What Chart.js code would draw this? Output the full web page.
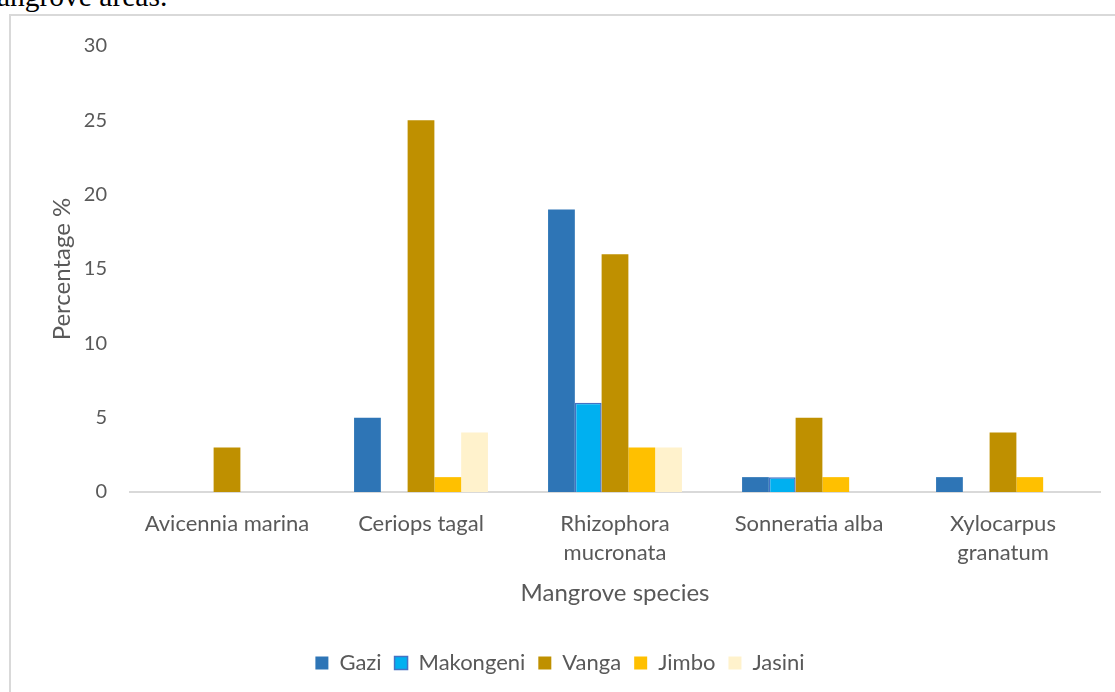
<!DOCTYPE html>
<html>
<head>
<meta charset="utf-8">
<script src="https://cdn.jsdelivr.net/npm/chart.js@4"></script>
<style>
    body { margin: 0; background: #fff; width: 1115px; height: 692px; overflow: hidden; position: relative; }
    #caption { position: absolute; left: -26px; top: -18px; font-family: "Liberation Serif", serif; font-size: 29.5px; line-height: 1; color: #000; white-space: nowrap; }
    #frame { position: absolute; left: 9px; top: 14px; width: 1120px; height: 700px; border: 2px solid #d9d9d9; box-sizing: border-box; }
    #chart { position: absolute; left: 11px; top: 11px; }
</style>
</head>
<body>
<div id="caption">mangrove areas.</div>
<div id="frame"></div>
<canvas id="chart" width="1104" height="681"></canvas>
<script>
// Mangrove species (x axis)
const species = [['Avicennia marina'], ['Ceriops tagal'], ['Rhizophora', 'mucronata'], ['Sonneratia alba'], ['Xylocarpus', 'granatum']];

// Percentage per site
const gazi = [0, 5, 19, 1, 1];
const makongeni = [0, 0, 6, 1, 0];
const vanga = [3, 25, 16, 5, 4];
const jimbo = [0, 1, 3, 1, 1];
const jasini = [0, 4, 3, 0, 0];

const yTicks = [0, 5, 10, 15, 20, 25, 30];

const textColor = '#595959';
const fontFamily = 'Lato, "Open Sans", sans-serif';

const ctx = document.getElementById('chart').getContext('2d');
const chart = new Chart(ctx, {
    type: 'bar',
    data: {
        labels: species,
        datasets: [
            { label: 'Gazi', data: gazi, backgroundColor: '#2e75b6', borderWidth: 0 },
            { label: 'Makongeni', data: makongeni, backgroundColor: '#00b0f0', borderColor: '#4472c4', borderWidth: 1.5 },
            { label: 'Vanga', data: vanga, backgroundColor: '#bf9000', borderWidth: 0 },
            { label: 'Jimbo', data: jimbo, backgroundColor: '#ffc000', borderWidth: 0 },
            { label: 'Jasini', data: jasini, backgroundColor: '#fff2cc', borderWidth: 0 }
        ]
    },
    options: {
        responsive: false,
        animation: false,
        layout: { padding: { left: 9, right: 15, top: 4, bottom: 8 } },
        datasets: {
            bar: { barPercentage: 1.0, categoryPercentage: 0.69 }
        },
        scales: {
            x: {
                grid: { display: false, drawTicks: false },
                border: { color: '#d9d9d9', width: 2 },
                ticks: { color: textColor, font: { family: fontFamily, size: 22, lineHeight: 1.3 }, padding: 18, maxRotation: 0 },
                title: { display: true, text: 'Mangrove species', color: textColor, font: { family: fontFamily, size: 24 }, padding: { top: -6, bottom: 31 } }
            },
            y: {
                min: 0,
                max: 30,
                afterBuildTicks: (axis) => { axis.ticks = yTicks.map(v => ({ value: v })); },
                afterFit: (axis) => { axis.width = 110; },
                grid: { display: false, drawTicks: false },
                border: { display: false },
                ticks: { color: textColor, font: { family: fontFamily, size: 20 }, padding: 23 },
                title: { display: true, text: 'Percentage %', color: textColor, font: { family: fontFamily, size: 24 }, padding: { top: 28, bottom: 0 } }
            }
        },
        plugins: {
            legend: {
                position: 'bottom',
                labels: {
                    color: textColor,
                    font: { family: fontFamily, size: 22 },
                    boxWidth: 13,
                    boxHeight: 13,
                    padding: 13
                }
            },
            tooltip: { enabled: false }
        }
    }
});
</script>
</body>
</html>
